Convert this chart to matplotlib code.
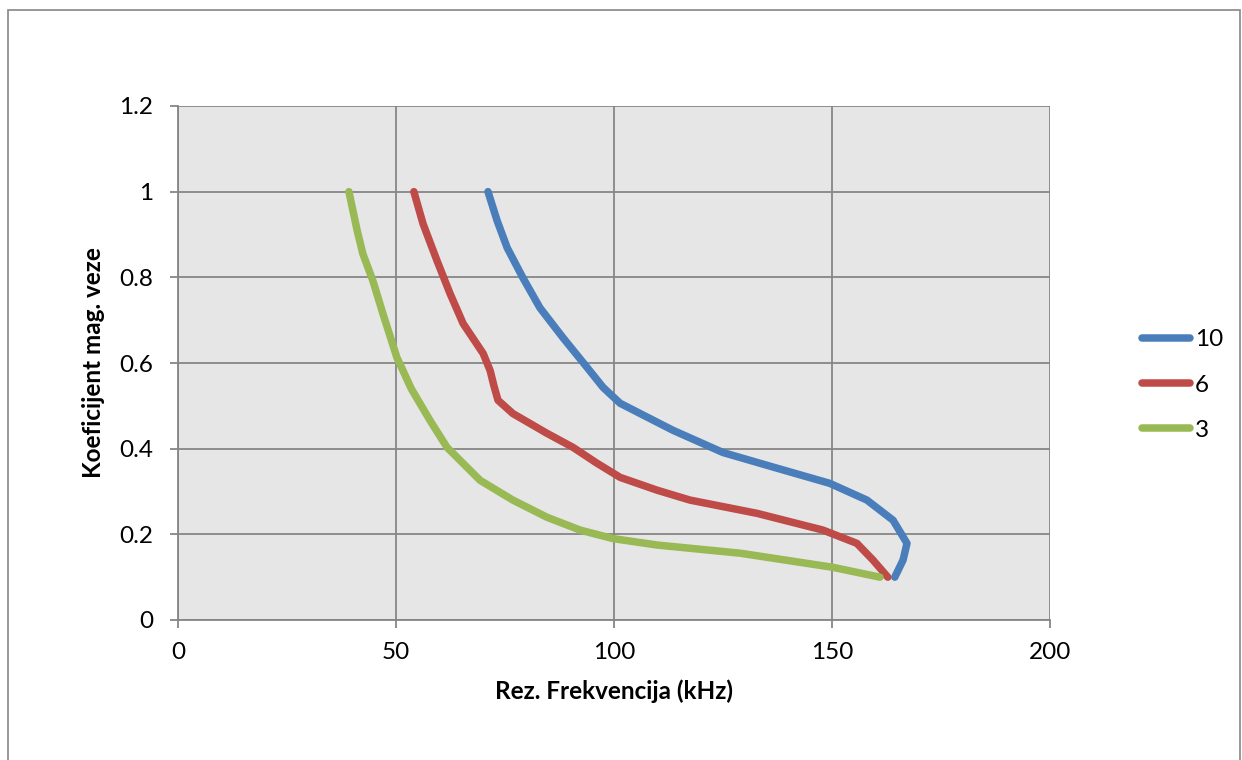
import matplotlib.pyplot as plt
from matplotlib.patches import Rectangle

# values (x = kHz, y = coupling coefficient)
x_10 = [71.1, 73.2, 75.5, 79.1, 83.0, 88.3, 93.8, 97.5, 101.4, 106.0, 113.5,
        125.0, 136.5, 149.5, 158.0, 164.0, 167.2, 166.3, 164.4]
y_10 = [1.0, 0.932, 0.869, 0.799, 0.729, 0.659, 0.59, 0.543, 0.506, 0.482, 0.443,
        0.391, 0.357, 0.319, 0.28, 0.233, 0.179, 0.14, 0.1]

x_6 = [54.1, 56.2, 59.4, 62.4, 65.4, 70.0, 71.6, 72.5, 73.4, 76.8, 84.6, 90.6,
       96.1, 101.4, 109.9, 117.4, 132.8, 147.9, 155.7, 159.4, 162.8]
y_6 = [1.0, 0.925, 0.839, 0.762, 0.692, 0.622, 0.582, 0.545, 0.513, 0.482, 0.436,
       0.403, 0.366, 0.333, 0.303, 0.28, 0.249, 0.21, 0.179, 0.14, 0.1]

x_3 = [39.2, 41.1, 42.4, 44.7, 47.0, 50.2, 53.5, 57.8, 61.7, 69.3, 76.8, 84.6,
       92.2, 99.8, 109.9, 128.9, 150.2, 161.0]
y_3 = [1.0, 0.909, 0.855, 0.792, 0.715, 0.613, 0.54, 0.466, 0.403, 0.326, 0.28,
       0.24, 0.21, 0.19, 0.175, 0.156, 0.123, 0.1]

labels = ['10', '6', '3']
colors = ['#4A7EBB', '#BE4B48', '#98B954']

plt.rcParams['font.family'] = ['Lato', 'DejaVu Sans']

fig = plt.figure(figsize=(12.42, 7.6), dpi=100)
ax = fig.add_axes([178 / 1242, 1 - 620 / 760, 872 / 1242, 514 / 760])

# outer chart border
fig.patches.append(Rectangle((8 / 1242, -0.01), (1240 - 8) / 1242, 1 - 10 / 760 + 0.01,
                             transform=fig.transFigure, fill=False,
                             edgecolor='#868686', linewidth=1.2))

ax.set_facecolor('#E6E6E6')
for xs, ys, lab, c in zip([x_10, x_6, x_3], [y_10, y_6, y_3], labels, colors):
    ax.plot(xs, ys, color=c, linewidth=5.4, solid_capstyle='round',
            solid_joinstyle='round', label=lab)

ax.set_xlim(0, 200)
ax.set_ylim(0, 1.2)
ax.set_xticks([0, 50, 100, 150, 200])
ax.set_yticks([0, 0.2, 0.4, 0.6, 0.8, 1.0, 1.2])
ax.set_yticklabels(['0', '0.2', '0.4', '0.6', '0.8', '1', '1.2'])
ax.grid(True, color='#868686', linewidth=1.3)
ax.set_axisbelow(True)
for side in ['top', 'right']:
    ax.spines[side].set_visible(False)
for side in ['left', 'bottom']:
    ax.spines[side].set_color('#868686')
    ax.spines[side].set_linewidth(1.3)
ax.tick_params(axis='both', colors='#868686', labelcolor='black', labelsize=17.5,
               length=6, width=1.3)
ax.tick_params(axis='y', pad=12)
ax.tick_params(axis='x', pad=10)

ax.set_xlabel('Rez. Frekvencija (kHz)', fontsize=17.5, fontweight='bold', labelpad=12)
ax.set_ylabel('Koeficijent mag. veze', fontsize=17.5, fontweight='bold', labelpad=10)

ax.legend(loc='center left', bbox_to_anchor=(1.08, 0.457), frameon=False,
          fontsize=17.5, handlelength=2.0, handletextpad=0.2, labelspacing=1.0)

plt.savefig('out.png', dpi=100)
